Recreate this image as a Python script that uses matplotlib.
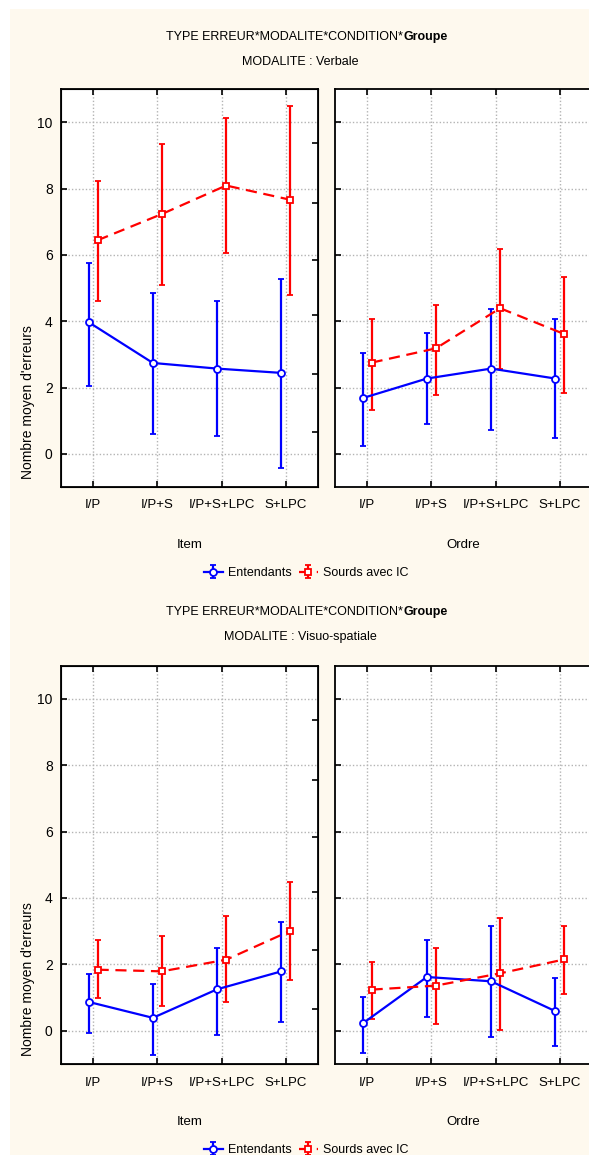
#!/usr/bin/env python3
"""Mean errors by condition, group and error type (Verbale / Visuo-spatiale)."""

import matplotlib
import numpy as np

matplotlib.use("Agg")
import matplotlib.pyplot as plt
from matplotlib.patches import Rectangle

W, H = 589, 1155

conditions = ["I/P", "I/P+S", "I/P+S+LPC", "S+LPC"]
groups = ["Entendants", "Sourds avec IC"]
modalites = ["Verbale", "Visuo-spatiale"]
types_erreur = ["Item", "Ordre"]

# Verbale - Item
verb_item_ent = [3.97, 2.74, 2.57, 2.44]
verb_item_ent_lo = [2.06, 0.61, 0.54, -0.42]
verb_item_ent_hi = [5.76, 4.85, 4.62, 5.26]
verb_item_sou = [6.44, 7.23, 8.09, 7.66]
verb_item_sou_lo = [4.61, 5.08, 6.05, 4.78]
verb_item_sou_hi = [8.24, 9.33, 10.12, 10.48]

# Verbale - Ordre
verb_ordre_ent = [1.68, 2.27, 2.57, 2.27]
verb_ordre_ent_lo = [0.24, 0.91, 0.73, 0.48]
verb_ordre_ent_hi = [3.03, 3.63, 4.36, 4.06]
verb_ordre_sou = [2.75, 3.18, 4.39, 3.61]
verb_ordre_sou_lo = [1.33, 1.77, 2.55, 1.82]
verb_ordre_sou_hi = [4.06, 4.48, 6.17, 5.33]

# Visuo-spatiale - Item
visu_item_ent = [0.87, 0.39, 1.25, 1.79]
visu_item_ent_lo = [-0.06, -0.73, -0.13, 0.25]
visu_item_ent_hi = [1.72, 1.40, 2.49, 3.27]
visu_item_sou = [1.84, 1.79, 2.14, 3.01]
visu_item_sou_lo = [0.98, 0.74, 0.86, 1.52]
visu_item_sou_hi = [2.73, 2.86, 3.46, 4.49]

# Visuo-spatiale - Ordre
visu_ordre_ent = [0.22, 1.62, 1.49, 0.59]
visu_ordre_ent_lo = [-0.66, 0.42, -0.18, -0.47]
visu_ordre_ent_hi = [1.03, 2.74, 3.16, 1.59]
visu_ordre_sou = [1.24, 1.36, 1.73, 2.15]
visu_ordre_sou_lo = [0.37, 0.19, 0.01, 1.10]
visu_ordre_sou_hi = [2.07, 2.49, 3.41, 3.16]

y_ticks = [0, 2, 4, 6, 8, 10]
right_ticks = [0.67, 2.42, 4.18, 5.85, 7.55, 9.36]

FONT = ["Liberation Sans", "DejaVu Sans"]
CREAM = "#fef9ee"
COLORS = ["#0000ff", "#ff0000"]


def fx(px):
    return px / W


def fy(py):
    return 1 - py / H


def draw_panel(ax, series, show_ylabels):
    x = np.arange(len(conditions))
    offsets = [-0.07, 0.07]
    markers = ["o", "s"]
    styles = ["-", (0, (5, 3))]
    for (m, lo, hi), col, off, mk, ls, lab in zip(series, COLORS, offsets, markers, styles, groups):
        m = np.array(m)
        yerr = [m - np.array(lo), np.array(hi) - m]
        ax.errorbar(x + off, m, yerr=yerr, color=col, ecolor=col, linestyle=ls,
                    linewidth=1.6, elinewidth=1.6, capsize=2.5, capthick=1.6,
                    marker=mk, markersize=5, markerfacecolor="white",
                    markeredgecolor=col, markeredgewidth=1.3, label=lab, zorder=3)

    ax.set_xlim(-0.5, 3.5)
    ax.set_ylim(-1, 11)
    ax.set_xticks(x)
    ax.set_xticklabels(conditions, fontfamily=FONT, fontsize=9.5)
    ax.set_yticks(y_ticks)
    if show_ylabels:
        ax.set_yticklabels([str(t) for t in y_ticks], fontfamily=FONT, fontsize=10)
    else:
        ax.set_yticklabels([])
    ax.tick_params(direction="in", length=4, width=1.2, top=True, pad=9, colors="black")
    ax.tick_params(axis="y", pad=6)
    ax.grid(True, color="#b4b4b4", linestyle=(0, (1, 1.5)), linewidth=1.0)
    ax.set_facecolor("white")
    for sp in ax.spines.values():
        sp.set_linewidth(1.3)
        sp.set_color("black")

    if show_ylabels:
        tw = ax.twinx()
        tw.set_ylim(-1, 11)
        tw.set_yticks(right_ticks)
        tw.set_yticklabels([])
        tw.tick_params(direction="in", length=4, width=1.2)


def add_title(fig, y_px, sub):
    renderer = fig.canvas.get_renderer()
    t1 = fig.text(0, fy(y_px), "TYPE ERREUR*MODALITE*CONDITION*", fontfamily=FONT,
                  fontsize=9, ha="left", va="center")
    t2 = fig.text(0, fy(y_px), "Groupe", fontfamily=FONT, fontsize=9,
                  fontweight="bold", ha="left", va="center")
    w1 = t1.get_window_extent(renderer).width
    w2 = t2.get_window_extent(renderer).width
    x0 = 307 - (w1 + w2) / 2
    t1.set_x(fx(x0))
    t2.set_x(fx(x0 + w1))
    fig.text(fx(300), fy(y_px + 25), "MODALITE : " + sub, fontfamily=FONT,
             fontsize=9, ha="center", va="center")


def main():
    fig = plt.figure(figsize=(W / 100, H / 100), dpi=100, facecolor="white")
    fig.patches.append(Rectangle((fx(10), 0), 1, fy(9), transform=fig.transFigure,
                                 facecolor=CREAM, edgecolor="none", zorder=-10))

    data = {
        ("Verbale", "Item"): [(verb_item_ent, verb_item_ent_lo, verb_item_ent_hi),
                              (verb_item_sou, verb_item_sou_lo, verb_item_sou_hi)],
        ("Verbale", "Ordre"): [(verb_ordre_ent, verb_ordre_ent_lo, verb_ordre_ent_hi),
                               (verb_ordre_sou, verb_ordre_sou_lo, verb_ordre_sou_hi)],
        ("Visuo-spatiale", "Item"): [(visu_item_ent, visu_item_ent_lo, visu_item_ent_hi),
                                     (visu_item_sou, visu_item_sou_lo, visu_item_sou_hi)],
        ("Visuo-spatiale", "Ordre"): [(visu_ordre_ent, visu_ordre_ent_lo, visu_ordre_ent_hi),
                                      (visu_ordre_sou, visu_ordre_sou_lo, visu_ordre_sou_hi)],
    }

    # pixel layout: (title y, axes top, axes bottom)
    blocks = [(37, 89, 487), (612, 665.5, 1064)]
    panels_x = [(61, 318), (335, 592)]

    for mod, (t_px, a_top, a_bot) in zip(modalites, blocks):
        add_title(fig, t_px, mod)
        axes = []
        for i, (typ, (l, r)) in enumerate(zip(types_erreur, panels_x)):
            ax = fig.add_axes([fx(l), fy(a_bot), (r - l) / W, (a_bot - a_top) / H])
            draw_panel(ax, data[(mod, typ)], show_ylabels=(i == 0))
            fig.text(fx((l + r) / 2), fy(a_bot + 58), typ, fontfamily=FONT,
                     fontsize=9.5, ha="center", va="center")
            axes.append(ax)
        fig.text(fx(28), fy(a_bot - 85), "Nombre moyen d'erreurs", fontfamily=FONT,
                 fontsize=10, rotation=90, ha="center", va="center")
        handles, labels = axes[0].get_legend_handles_labels()
        fig.legend(handles, labels, loc="center", bbox_to_anchor=(fx(306), fy(a_bot + 86)),
                   ncol=2, frameon=False, prop={"family": FONT, "size": 9},
                   handlelength=1.5, handletextpad=0.4, columnspacing=0.6)

    fig.savefig("out.png", dpi=100, facecolor="white")
    plt.close(fig)


if __name__ == "__main__":
    main()
